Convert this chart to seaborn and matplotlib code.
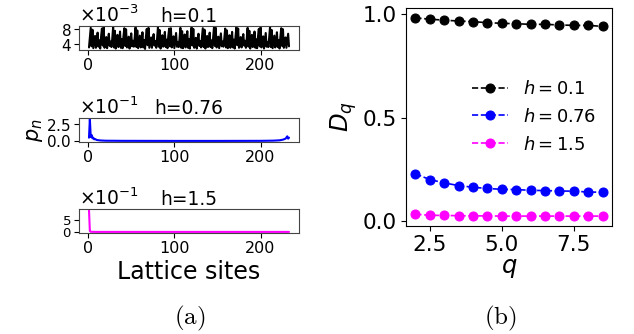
import numpy as np
import pandas as pd
import matplotlib
matplotlib.use("Agg")
import matplotlib.pyplot as plt
import seaborn as sns

sns.set_style("ticks")
plt.rcParams['font.family'] = ['DejaVu Sans']
plt.rcParams.update({'text.color': 'black', 'axes.labelcolor': 'black',
                     'xtick.color': 'black', 'ytick.color': 'black',
                     'axes.edgecolor': 'black'})

# ---------------- data ----------------
# h = 0.1 : extended state, values in units of 1e-3 (sites 1..233)
p_h01_e3 = [
    3.1, 5.8, 8.4, 3.4, 7.9, 2.9, 4.6, 6.2, 3.0, 4.8, 7.1, 3.3, 5.0,
    2.8, 6.0, 8.2, 3.6, 8.5, 3.0, 4.3, 5.9, 2.9, 5.1, 6.8, 3.5, 4.7,
    3.2, 5.5, 8.6, 3.1, 7.6, 2.8, 4.9, 6.5, 3.2, 4.4, 7.4, 3.0, 5.3,
    2.9, 6.1, 8.3, 3.5, 8.0, 3.1, 4.5, 6.0, 2.8, 5.0, 6.9, 3.4, 4.9,
    3.3, 5.7, 8.5, 3.2, 7.7, 2.9, 4.7, 6.3, 3.1, 4.6, 7.2, 3.1, 5.1,
    2.7, 5.9, 8.1, 3.7, 8.4, 3.0, 4.4, 5.8, 3.0, 5.2, 6.7, 3.6, 4.8,
    3.0, 5.6, 8.6, 3.3, 7.8, 2.8, 4.8, 6.4, 3.3, 4.5, 7.3, 3.2, 5.2,
    2.9, 6.2, 8.2, 3.4, 8.3, 3.1, 4.2, 6.1, 2.9, 4.9, 7.0, 3.3, 4.6,
    3.2, 5.4, 8.4, 3.0, 7.5, 2.9, 5.0, 6.6, 3.1, 4.3, 7.5, 3.0, 5.4,
    2.8, 6.0, 8.5, 3.6, 8.1, 3.0, 4.6, 5.7, 2.8, 5.1, 6.8, 3.5, 4.8,
    3.1, 5.8, 8.3, 3.2, 7.9, 2.8, 4.7, 6.2, 3.2, 4.7, 7.1, 3.2, 5.0,
    2.9, 5.9, 8.6, 3.5, 8.4, 3.1, 4.4, 6.0, 2.9, 5.0, 6.9, 3.4, 4.7,
    3.3, 5.6, 8.2, 3.1, 7.7, 2.9, 4.9, 6.4, 3.0, 4.5, 7.3, 3.1, 5.2,
    2.8, 6.1, 8.5, 3.7, 8.2, 3.0, 4.3, 5.9, 3.1, 5.2, 6.7, 3.6, 4.9,
    3.0, 5.5, 8.4, 3.3, 7.6, 2.8, 4.8, 6.5, 3.2, 4.4, 7.4, 3.0, 5.3,
    2.9, 6.0, 8.1, 3.4, 8.5, 3.1, 4.5, 6.1, 2.8, 4.9, 7.0, 3.3, 4.6,
    3.2, 5.7, 8.6, 3.2, 7.8, 2.9, 4.6, 6.3, 3.1, 4.6, 7.2, 3.2, 5.1,
    2.8, 5.9, 8.3, 3.5, 8.0, 3.0, 4.7, 5.8, 3.0, 5.0, 6.8, 3.4,
]
sites_h01 = list(range(1, len(p_h01_e3) + 1))

# h = 0.76 : critical state (units of 1e-1)
sites_h076 = [1, 2, 3, 4, 5, 6, 7, 8, 10, 14, 20, 40, 100, 150, 200, 215, 222, 226, 229, 231, 232, 233]
p_h076_e1 = [0.5, 3.3, 0.6, 0.9, 0.4, 0.5, 0.25, 0.3, 0.15, 0.08, 0.04, 0.02, 0.01, 0.01, 0.02,
             0.05, 0.1, 0.2, 0.35, 0.7, 0.35, 0.5]

# h = 1.5 : localized state
sites_h15 = [1, 2, 3, 10, 100, 200, 233]
p_h15 = [0.93, 0.04, 0.01, 0.005, 0.005, 0.005, 0.005]

# fractal dimensions D_q
q_vals = [2.0, 2.5, 3.0, 3.5, 4.0, 4.5, 5.0, 5.5, 6.0, 6.5, 7.0, 7.5, 8.0, 8.5]
Dq_h01 = [0.981, 0.975, 0.970, 0.966, 0.963, 0.958, 0.955, 0.953, 0.950, 0.950, 0.947, 0.945, 0.945, 0.940]
Dq_h076 = [0.230, 0.202, 0.186, 0.173, 0.165, 0.159, 0.155, 0.154, 0.150, 0.149, 0.147, 0.146, 0.142, 0.141]
Dq_h15 = [0.035, 0.030, 0.029, 0.028, 0.027, 0.027, 0.026, 0.026, 0.026, 0.026, 0.026, 0.026, 0.026, 0.026]

# ---------------- figure ----------------
W, H = 634, 334
fig = plt.figure(figsize=(W / 100, H / 100), dpi=100)

def px_axes(x0, y0, x1, y1):
    return fig.add_axes([x0 / W, 1 - y1 / H, (x1 - x0) / W, (y1 - y0) / H])

tick_fs = 11.5

ax1 = px_axes(79, 26, 299, 50)
ax2 = px_axes(79, 118, 299, 142)
ax3 = px_axes(79, 209, 299, 233)
axr = px_axes(406, 8, 612, 226)

sns.lineplot(x=sites_h01, y=np.array(p_h01_e3) * 1e-3, ax=ax1, color='black', lw=1.5, estimator=None)
sns.lineplot(x=sites_h076, y=np.array(p_h076_e1) * 1e-1, ax=ax2, color='blue', lw=1.5, estimator=None)
sns.lineplot(x=sites_h15, y=p_h15, ax=ax3, color='magenta', lw=1.5, estimator=None)

ax1.set_yticks([0.004, 0.008])
ax2.set_yticks([0.0, 0.25])
ax3.set_yticks([0.0, 0.5])
titles = ['h=0.1', 'h=0.76', 'h=1.5']
for ax, t in zip([ax1, ax2, ax3], titles):
    ax.set_xticks([0, 100, 200])
    ax.ticklabel_format(axis='y', style='sci', scilimits=(0, 0), useMathText=True)
    ax.yaxis.get_offset_text().set_fontsize(13.5)
    ax.tick_params(axis='x', labelsize=tick_fs, length=3.5, pad=2)
    ax.tick_params(axis='y', labelsize=11, length=3.5, pad=2)
    ax.set_title(t, fontsize=13.4, pad=2)
    ax.set_xlabel('')
    ax.set_ylabel('')
    for s in ax.spines.values():
        s.set_color('#444444')
ax3.tick_params(axis='y', labelsize=9.5)

ax2.set_ylabel(r'$p_n$', fontsize=15, labelpad=1)
ax3.set_xlabel('Lattice sites', fontsize=17, labelpad=3)

for y, c, lab in [(Dq_h01, 'black', r'$h=0.1$'), (Dq_h076, 'blue', r'$h=0.76$'), (Dq_h15, 'magenta', r'$h=1.5$')]:
    sns.lineplot(x=q_vals, y=y, ax=axr, color=c, marker='o', markersize=6.5, markeredgecolor=c,
                 linestyle='--', lw=1.2, label=lab, estimator=None)

axr.set_xticks([2.5, 5.0, 7.5])
axr.set_yticks([0.0, 0.5, 1.0])
axr.tick_params(labelsize=15.5, length=3.5, pad=3)
axr.set_xlabel(r'$q$', fontsize=17.5, labelpad=1)
axr.set_ylabel(r'$D_q$', fontsize=17.5, labelpad=3)
axr.legend(loc='upper right', bbox_to_anchor=(1.0, 0.745), frameon=False, fontsize=13,
           handlelength=2.0, labelspacing=0.55, handletextpad=0.8)

fig.text(190 / W, 1 - 318 / H, r'$\mathrm{(a)}$', math_fontfamily='cm', fontsize=18, ha='center', va='center')
fig.text(500 / W, 1 - 318 / H, r'$\mathrm{(b)}$', math_fontfamily='cm', fontsize=18, ha='center', va='center')

fig.savefig('out.png', dpi=100)
